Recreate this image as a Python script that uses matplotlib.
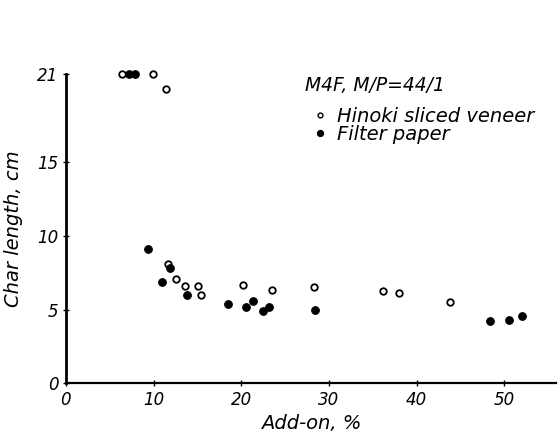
import matplotlib
matplotlib.use("Agg")
import matplotlib.pyplot as plt

# Hinoki sliced veneer (open circles)
hinoki_addon = [6.4, 9.9, 11.4, 11.6, 12.5, 13.6, 15.0, 15.4, 20.2, 23.5, 28.3, 36.1, 38.0, 43.8]
hinoki_char = [21.0, 21.0, 20.0, 8.1, 7.1, 6.6, 6.6, 6.0, 6.7, 6.3, 6.5, 6.25, 6.1, 5.5]

# Filter paper (filled circles)
paper_addon = [7.2, 7.9, 9.4, 11.0, 11.9, 13.75, 18.5, 20.5, 21.3, 22.5, 23.1, 28.4, 48.3, 50.5, 52.0]
paper_char = [21.0, 21.0, 9.1, 6.9, 7.8, 6.0, 5.4, 5.2, 5.6, 4.9, 5.2, 5.0, 4.2, 4.3, 4.55]

x_ticks = [0, 10, 20, 30, 40, 50]
y_ticks = [0, 5, 10, 15, 21]

plt.rcParams['font.family'] = ['DejaVu Sans']
plt.rcParams['font.style'] = 'italic'

fig = plt.figure(figsize=(5.59, 4.43), dpi=100)
ax = fig.add_axes([0.118, 0.135, 0.877, 0.698])

ax.scatter(hinoki_addon, hinoki_char, s=22, facecolors='white', edgecolors='black',
           linewidths=1.3, clip_on=False, zorder=3)
ax.scatter(paper_addon, paper_char, s=30, facecolors='black', edgecolors='black',
           linewidths=0.8, clip_on=False, zorder=3)

ax.set_xlim(0, 55.9)
ax.set_ylim(0, 21)
ax.spines['top'].set_visible(False)
ax.spines['right'].set_visible(False)
ax.spines['left'].set_linewidth(2.0)
ax.spines['bottom'].set_linewidth(1.6)

ax.set_xticks(x_ticks)
ax.set_yticks(y_ticks)
ax.set_xticklabels([str(v) for v in x_ticks], fontsize=12)
ax.set_yticklabels([str(v) for v in y_ticks], fontsize=12)
ax.tick_params(direction='inout', length=5, width=1, pad=3)

ax.set_xlabel('Add-on, %', fontsize=14, labelpad=4)
ax.set_ylabel('Char length, cm', fontsize=14, labelpad=10)

# legend block, typed as plain text with marker glyphs
fig.text(0.546, 0.795, 'M4F, M/P=44/1', fontsize=13.5)
ax.scatter([0.573], [0.740], s=12, facecolors='white', edgecolors='black', linewidths=1.0,
           transform=fig.transFigure, clip_on=False)
ax.scatter([0.573], [0.700], s=18, facecolors='black', edgecolors='black',
           transform=fig.transFigure, clip_on=False)
fig.text(0.603, 0.725, 'Hinoki sliced veneer', fontsize=14)
fig.text(0.603, 0.685, 'Filter paper', fontsize=14)

fig.savefig('out.png', dpi=100)
